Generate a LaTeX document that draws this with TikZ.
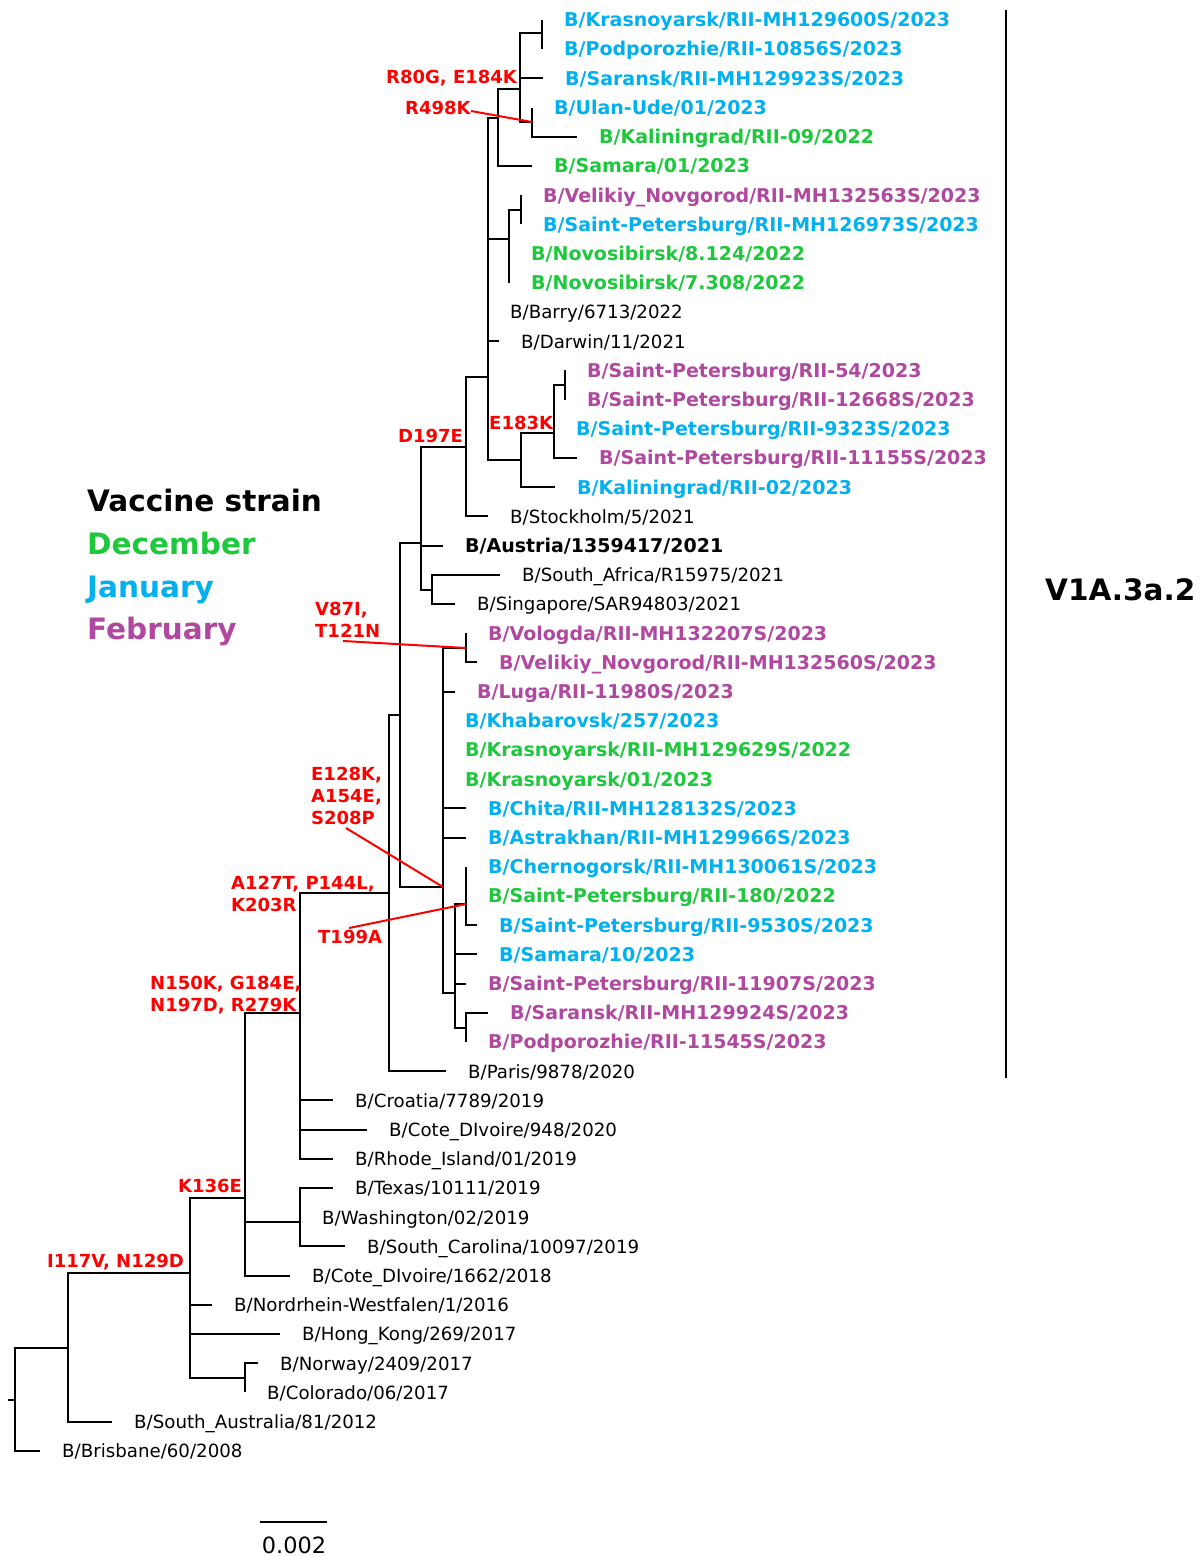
\documentclass[tikz,border=0pt]{standalone}
\usepackage{fontspec}
\setmainfont{DejaVu Sans}
\definecolor{cyn}{RGB}{0,176,240}
\definecolor{grn}{RGB}{30,200,60}
\definecolor{prp}{RGB}{176,72,160}
\definecolor{rd}{RGB}{255,0,0}
\newcommand\leafnode[5]{%
  \coordinate (#1) at (#2,{round(20+29.2*#3)});
  \node[#4,anchor=base west] (#1t) at ({#2+22},{20+29.2*#3+6.8}) {#5};
}
\begin{document}
\begin{tikzpicture}[x=1pt,y=-1pt,
  br/.style={line width=2pt,line join=miter},
  redln/.style={draw=rd,line width=2pt},
  bk/.style={inner sep=0,font=\fontsize{18.2}{20}\selectfont},
  bkb/.style={inner sep=0,font=\bfseries\fontsize{19}{21}\selectfont},
  cy/.style={inner sep=0,text=cyn,font=\bfseries\fontsize{19}{21}\selectfont},
  gr/.style={inner sep=0,text=grn,font=\bfseries\fontsize{19}{21}\selectfont},
  pr/.style={inner sep=0,text=prp,font=\bfseries\fontsize{19}{21}\selectfont},
  mut/.style={inner sep=0,text=rd,align=left,font=\bfseries\fontsize{18}{22}\selectfont},
  leg/.style={inner sep=0,anchor=base west,font=\bfseries\fontsize{29.5}{32}\selectfont}]
\fill[white] (0,0) rectangle (1199,1557);
\useasboundingbox (0,0) rectangle (1199,1557);
% leaves
\leafnode{L0}{542}{0}{cy}{B/Krasnoyarsk/RII-MH129600S/2023}
\leafnode{L1}{542}{1}{cy}{B/Podporozhie/RII-10856S/2023}
\leafnode{L2}{543}{2}{cy}{B/Saransk/RII-MH129923S/2023}
\leafnode{L3}{532}{3}{cy}{B/Ulan-Ude/01/2023}
\leafnode{L4}{577}{4}{gr}{B/Kaliningrad/RII-09/2022}
\leafnode{L5}{532}{5}{gr}{B/Samara/01/2023}
\leafnode{L6}{521}{6}{pr}{B/Velikiy\_Novgorod/RII-MH132563S/2023}
\leafnode{L7}{521}{7}{cy}{B/Saint-Petersburg/RII-MH126973S/2023}
\leafnode{L8}{509}{8}{gr}{B/Novosibirsk/8.124/2022}
\leafnode{L9}{509}{9}{gr}{B/Novosibirsk/7.308/2022}
\leafnode{L10}{488}{10}{bk}{B/Barry/6713/2022}
\leafnode{L11}{499}{11}{bk}{B/Darwin/11/2021}
\leafnode{L12}{565}{12}{pr}{B/Saint-Petersburg/RII-54/2023}
\leafnode{L13}{565}{13}{pr}{B/Saint-Petersburg/RII-12668S/2023}
\leafnode{L14}{554}{14}{cy}{B/Saint-Petersburg/RII-9323S/2023}
\leafnode{L15}{577}{15}{pr}{B/Saint-Petersburg/RII-11155S/2023}
\leafnode{L16}{555}{16}{cy}{B/Kaliningrad/RII-02/2023}
\leafnode{L17}{488}{17}{bk}{B/Stockholm/5/2021}
\leafnode{L18}{443}{18}{bkb}{B/Austria/1359417/2021}
\leafnode{L19}{500}{19}{bk}{B/South\_Africa/R15975/2021}
\leafnode{L20}{455}{20}{bk}{B/Singapore/SAR94803/2021}
\leafnode{L21}{466}{21}{pr}{B/Vologda/RII-MH132207S/2023}
\leafnode{L22}{477}{22}{pr}{B/Velikiy\_Novgorod/RII-MH132560S/2023}
\leafnode{L23}{455}{23}{pr}{B/Luga/RII-11980S/2023}
\leafnode{L24}{443}{24}{cy}{B/Khabarovsk/257/2023}
\leafnode{L25}{443}{25}{gr}{B/Krasnoyarsk/RII-MH129629S/2022}
\leafnode{L26}{443}{26}{gr}{B/Krasnoyarsk/01/2023}
\leafnode{L27}{466}{27}{cy}{B/Chita/RII-MH128132S/2023}
\leafnode{L28}{466}{28}{cy}{B/Astrakhan/RII-MH129966S/2023}
\leafnode{L29}{466}{29}{cy}{B/Chernogorsk/RII-MH130061S/2023}
\leafnode{L30}{466}{30}{gr}{B/Saint-Petersburg/RII-180/2022}
\leafnode{L31}{477}{31}{cy}{B/Saint-Petersburg/RII-9530S/2023}
\leafnode{L32}{477}{32}{cy}{B/Samara/10/2023}
\leafnode{L33}{466}{33}{pr}{B/Saint-Petersburg/RII-11907S/2023}
\leafnode{L34}{488}{34}{pr}{B/Saransk/RII-MH129924S/2023}
\leafnode{L35}{466}{35}{pr}{B/Podporozhie/RII-11545S/2023}
\leafnode{L36}{446}{36}{bk}{B/Paris/9878/2020}
\leafnode{L37}{333}{37}{bk}{B/Croatia/7789/2019}
\leafnode{L38}{367}{38}{bk}{B/Cote\_DIvoire/948/2020}
\leafnode{L39}{333}{39}{bk}{B/Rhode\_Island/01/2019}
\leafnode{L40}{333}{40}{bk}{B/Texas/10111/2019}
\leafnode{L41}{300}{41}{bk}{B/Washington/02/2019}
\leafnode{L42}{345}{42}{bk}{B/South\_Carolina/10097/2019}
\leafnode{L43}{290}{43}{bk}{B/Cote\_DIvoire/1662/2018}
\leafnode{L44}{212}{44}{bk}{B/Nordrhein-Westfalen/1/2016}
\leafnode{L45}{280}{45}{bk}{B/Hong\_Kong/269/2017}
\leafnode{L46}{258}{46}{bk}{B/Norway/2409/2017}
\leafnode{L47}{245}{47}{bk}{B/Colorado/06/2017}
\leafnode{L48}{112}{48}{bk}{B/South\_Australia/81/2012}
\leafnode{L49}{40}{49}{bk}{B/Brisbane/60/2008}
% internal nodes
\coordinate (Rs) at (8,1400);
\coordinate (R) at (15,1400);
\coordinate (n1) at (68,1348);
\coordinate (n2) at (190,1273);
\coordinate (nNC) at (245,1378);
\coordinate (nK) at (245,1198);
\coordinate (nTX) at (300,1222);
\coordinate (nN) at (300,1013);
\coordinate (nA) at (389,893);
\coordinate (nB) at (400,715);
\coordinate (nD0) at (421,543);
\coordinate (nSA) at (432,590);
\coordinate (nD) at (466,447);
\coordinate (nE) at (488,377);
\coordinate (nT) at (498,118);
\coordinate (nU) at (520,89);
\coordinate (nKP) at (542,33);
\coordinate (nUK) at (532,122);
\coordinate (nV) at (509,239);
\coordinate (nVS) at (521,210);
\coordinate (nEK) at (521,460);
\coordinate (nS) at (554,433);
\coordinate (nS2) at (565,385);
\coordinate (nBig) at (443,887);
\coordinate (nVV) at (466,648);
\coordinate (nT1) at (455,993);
\coordinate (nT2) at (466,904);
\coordinate (nSP) at (466,1028);
% branches
\draw[br] (Rs) -- (R);
\foreach \p/\c in {R/n1,R/L49,n1/L48,n1/n2,n2/nK,n2/L44,n2/L45,n2/nNC,nNC/L46,nNC/L47,
  nK/nN,nK/nTX,nK/L43,nTX/L40,nTX/L41,nTX/L42,nN/nA,nN/L37,nN/L38,nN/L39,
  nA/nB,nA/L36,nB/nD0,nB/nBig,nD0/nD,nD0/L18,nD0/nSA,nSA/L19,nSA/L20,
  nD/nE,nD/L17,nE/nT,nE/nV,nE/L10,nE/L11,nE/nEK,nT/nU,nT/L5,nU/nKP,nU/L2,nU/nUK,
  nKP/L0,nKP/L1,nUK/L3,nUK/L4,nV/nVS,nV/L8,nV/L9,nVS/L6,nVS/L7,
  nEK/nS,nEK/L16,nS/nS2,nS/L14,nS/L15,nS2/L12,nS2/L13,
  nBig/nVV,nBig/L23,nBig/L24,nBig/L25,nBig/L26,nBig/L27,nBig/L28,nBig/nT1,
  nVV/L21,nVV/L22,nT1/nT2,nT1/L32,nT1/L33,nT1/nSP,nT2/L29,nT2/L30,nT2/L31,nSP/L34,nSP/L35}
  \draw[br] (\p) |- (\c);
% mutation labels
\node[mut,anchor=base west] (mR80) at (386,83.5) {R80G, E184K};
\node[mut,anchor=base west] (mR498) at (405,114.5) {R498K};
\node[mut,anchor=base west] (mD197) at (398,442.5) {D197E};
\node[mut,anchor=base west] (mE183) at (489,429.5) {E183K};
\node[mut,anchor=north west] (mV87) at (315,601.5) {V87I,\\T121N};
\node[mut,anchor=north west] (mE128) at (311,766.5) {E128K,\\A154E,\\S208P};
\node[mut,anchor=north west] (mA127) at (231,875.5) {A127T, P144L,\\K203R};
\node[mut,anchor=base west] (mT199) at (318,943.5) {T199A};
\node[mut,anchor=north west] (mN150) at (150,975.5) {N150K, G184E,\\N197D, R279K};
\node[mut,anchor=base west] (mK136) at (178,1192.5) {K136E};
\node[mut,anchor=base west] (mI117) at (47,1267.5) {I117V, N129D};
% red pointers
\coordinate (pR498) at (471,111);
\coordinate (pV87) at (343,641);
\coordinate (pE128) at (346,828);
\coordinate (pT199) at (349,928);
\draw[redln] (pR498) -- (nUK);
\draw[redln] (pV87) -- (nVV);
\draw[redln] (pE128) -- (nBig);
\draw[redln] (pT199) -- (nT2);
% legend
\node[leg] (lgV) at (87,511.7) {Vaccine strain};
\node[leg,text=grn] (lgD) at (87,554.7) {December};
\node[leg,text=cyn] (lgJ) at (87,597.7) {January};
\node[leg,text=prp] (lgF) at (87,639.7) {February};
% clade bar
\coordinate (cbT) at (1006,10);
\coordinate (cbB) at (1006,1078);
\draw[line width=2pt] (cbT) -- (cbB);
\node[leg] (clade) at (1045,600.6) {V1A.3a.2};
% scale bar
\coordinate (sbL) at (260,1522);
\coordinate (sbR) at (327,1522);
\draw[line width=2pt] (sbL) -- (sbR);
\node[inner sep=0,anchor=base,font=\fontsize{22.4}{24}\selectfont] (sbt) at (294,1553) {0.002};
\end{tikzpicture}
\end{document}
